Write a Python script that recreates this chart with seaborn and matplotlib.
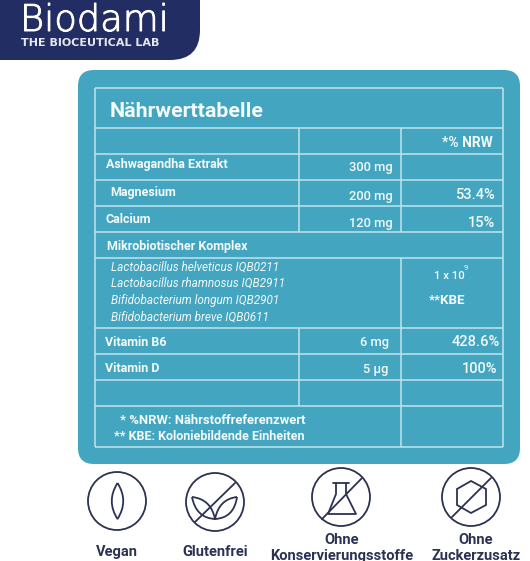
import numpy as np
import matplotlib
matplotlib.use("Agg")
import matplotlib.pyplot as plt
import matplotlib.patheffects as pe
from matplotlib.patches import FancyBboxPatch, Circle, PathPatch, Polygon
from matplotlib.path import Path
import seaborn as sns

# ---- content ----
TITLE = "Nährwerttabelle"
NRW_HEAD = "*% NRW"
nutrients = ["Ashwagandha Extrakt", "Magnesium", "Calcium", "Vitamin B6", "Vitamin D"]
amounts = ["300 mg", "200 mg", "120 mg", "6 mg", "5 µg"]
nrw = ["", "53.4%", "15%", "428.6%", "100%"]
complex_name = "Mikrobiotischer Komplex"
strains = ["Lactobacillus helveticus IQB0211", "Lactobacillus rhamnosus IQB2911",
           "Bifidobacterium longum IQB2901", "Bifidobacterium breve IQB0611"]
footnotes = ["* %NRW: Nährstoffreferenzwert", "** KBE: Koloniebildende Einheiten"]
badges = ["Vegan", "Glutenfrei", "Ohne\nKonservierungsstoffe", "Ohne\nZuckerzusatz"]

# ---- layout (pixels of the image) ----
name_x = [106, 110, 106, 105, 105]
name_y = [164, 192, 219, 342, 368]
amt_x = [393, 393, 393, 389, 388]
amt_y = [167, 196, 223, 342, 369]
nrw_x = [495, 495, 495, 500, 497]
nrw_y = [167, 195, 223, 342, 369]
strain_y = [267, 283, 300, 317]
row_y = [88, 128, 154, 180, 206, 232, 258, 328, 354, 380, 406, 447]

NAVY = "#222D63"
TEAL = "#43A5C0"
LINE = "#BFE4EC"
WHITE = "#F2FAFC"
INK = "#2B3252"

sns.set_theme(style="white")
plt.rcParams["font.family"] = ["Roboto", "DejaVu Sans"]

fig = plt.figure(figsize=(5.30, 5.61), dpi=100)
ax = fig.add_axes([0, 0, 1, 1])
ax.set_xlim(0, 530)
ax.set_ylim(561, 0)
ax.axis("off")

# logo
ax.add_patch(FancyBboxPatch((-60, -60), 260, 120, boxstyle="round,pad=0,rounding_size=30",
                            fc=NAVY, ec="none"))
ax.text(20, 20, "Biodami", color="white", fontsize=26.5, family="DejaVu Sans", weight="ultralight",
        va="center", ha="left", path_effects=[pe.withStroke(linewidth=0.7, foreground="white")])
ax.text(21, 43, "THE BIOCEUTICAL LAB", color="#E6E8F0", fontsize=8, family="DejaVu Sans",
        weight="bold", va="center", ha="left")

# card
ax.add_patch(FancyBboxPatch((78, 70), 442, 394, boxstyle="round,pad=0,rounding_size=16",
                            fc=TEAL, ec="none"))

# grid
lw = 1.1
ax.hlines(row_y, 95, 503, color=LINE, lw=lw)
ax.vlines([95, 503], 88, 447, color=LINE, lw=lw)
ax.vlines(299, 128, 232, color=LINE, lw=lw)
ax.vlines(299, 328, 406, color=LINE, lw=lw)
ax.vlines(401, 128, 232, color=LINE, lw=lw)
ax.vlines(401, 258, 447, color=LINE, lw=lw)

# texts
ax.text(110, 111, TITLE, color=WHITE, fontsize=15.4, weight="bold", va="center")
ax.text(493, 143, NRW_HEAD, color=WHITE, fontsize=10, weight="bold", va="center", ha="right")
for i, n in enumerate(nutrients):
    ax.text(name_x[i], name_y[i], n, color=WHITE, fontsize=9, weight="bold", va="center")
    ax.text(amt_x[i], amt_y[i], amounts[i], color=WHITE, fontsize=9.3, weight="medium", va="center", ha="right")
    ax.text(nrw_x[i], nrw_y[i], nrw[i], color=WHITE, fontsize=10.5, weight="medium", va="center", ha="right")
ax.text(107, 246.5, complex_name, color=WHITE, fontsize=9, weight="bold", va="center")
for y, s in zip(strain_y, strains):
    ax.text(111, y, s, color=WHITE, fontsize=8.5, style="italic", va="center")
ax.text(449, 276, "1 x 10", color=WHITE, fontsize=8.2, weight="medium", va="center", ha="center")
ax.text(466, 268, "9", color=WHITE, fontsize=5.5, va="center", ha="center")
ax.text(447, 300, "**KBE", color=WHITE, fontsize=9.5, weight="bold", va="center", ha="center")
ax.text(305, 420, footnotes[0], color=WHITE, fontsize=9.4, weight="bold", va="center", ha="right")
ax.text(305, 436, footnotes[1], color=WHITE, fontsize=9, weight="bold", va="center", ha="right")

# badge icons
centres = [(117, 501), (215, 502), (341, 497), (471, 497)]
ilw = 1.3
for c in centres:
    ax.add_patch(Circle(c, 29, fc="none", ec=INK, lw=ilw))

def curve(pts):
    codes = [Path.MOVETO] + [Path.CURVE3] * (len(pts) - 1)
    ax.add_patch(PathPatch(Path(pts, codes), fc="none", ec=INK, lw=ilw))

# vegan leaf
curve([(117.5, 483), (106, 501), (117.5, 519), (129, 501), (117.5, 483)])
# gluten free
curve([(192, 497), (196, 518), (215, 519), (211, 499), (192, 497)])
curve([(237, 497), (234, 518), (215, 519), (219, 499), (237, 497)])
ax.plot([195, 235], [522, 483], color=INK, lw=ilw)
# flask
ax.plot([333, 349], [483, 483], color=INK, lw=ilw)
ax.plot([336, 336, 328, 356, 346, 346], [483, 494, 514, 514, 494, 483], color=INK, lw=ilw)
ax.plot([322, 362], [519, 478], color=INK, lw=ilw)
# hexagon
ax.add_patch(Polygon([(471, 481), (486, 489), (486, 505), (471, 513), (457, 505), (457, 489)],
                     closed=True, fc="none", ec=INK, lw=ilw))
ax.plot([452, 491], [517, 478], color=INK, lw=ilw)

# badge labels
kw = dict(color=INK, fontsize=10.5, weight="bold", ha="center", va="center")
ax.text(117, 552, badges[0], **kw)
ax.text(215, 552, badges[1], **kw)
for x, lab in zip([342, 476], badges[2:]):
    top, bottom = lab.split("\n")
    ax.text(x, 540, top, **kw)
    ax.text(x, 556, bottom, **kw)

fig.savefig("out.png", dpi=100)
